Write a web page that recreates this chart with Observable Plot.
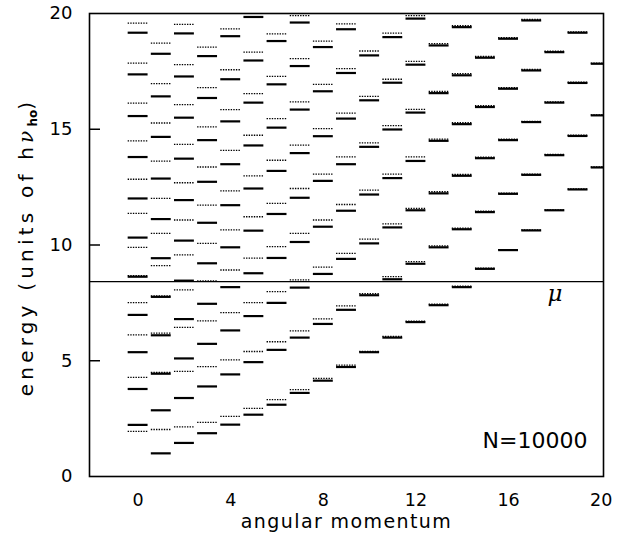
<!DOCTYPE html>
<html><head><meta charset="utf-8">
<script src="https://cdn.jsdelivr.net/npm/d3@7"></script>
<script src="https://cdn.jsdelivr.net/npm/@observablehq/plot@0.6"></script>
<style>body{margin:0;background:#fff} svg{display:block}</style>
</head><body><div id="chart"></div>
<script>
// energy levels (units of h nu_ho), indexed by angular momentum l = 0..20
const solidLevels = [
  [2.23, 3.78, 5.37, 6.98, 8.63, 10.32, 12.01, 13.8, 15.57, 17.37, 19.17],
  [1.0, 2.86, 4.44, 6.1, 7.76, 9.43, 11.12, 12.87, 14.67, 16.42, 18.26],
  [1.45, 3.39, 5.10, 6.8, 8.46, 10.19, 11.94, 13.73, 15.5, 17.28, 19.14],
  [1.87, 3.89, 5.73, 7.46, 9.21, 10.96, 12.73, 14.53, 16.35, 18.16],
  [2.24, 4.41, 6.31, 8.18, 9.9, 11.72, 13.49, 15.34, 17.16, 19.02],
  [2.67, 4.94, 6.93, 8.78, 10.62, 12.44, 14.3, 16.15, 17.97, 19.85],
  [3.1, 5.47, 7.5, 9.44, 11.34, 13.2, 15.07, 16.94, 18.81],
  [3.61, 6.0, 8.16, 10.13, 12.04, 13.97, 15.85, 17.73, 19.61],
  [4.14, 6.59, 8.75, 10.79, 12.77, 14.7, 16.64, 18.55],
  [4.73, 7.2, 9.4, 11.48, 13.49, 15.46, 17.43, 19.32],
  [5.37, 7.83, 10.07, 12.18, 14.24, 16.25, 18.19],
  [6.0, 8.52, 10.76, 12.89, 14.99, 17.01, 18.98],
  [6.67, 9.19, 11.5, 13.63, 15.72, 17.79, 19.78],
  [7.4, 9.9, 12.23, 14.5, 16.56, 18.62],
  [8.18, 10.68, 12.99, 15.22, 17.33, 19.41],
  [8.97, 11.42, 13.75, 15.96, 18.09],
  [9.78, 12.21, 14.53, 16.75, 18.91],
  [10.63, 13.03, 15.31, 17.54, 19.7],
  [11.5, 13.88, 16.15, 18.33],
  [12.4, 14.71, 17.0, 19.17],
  [13.35, 15.6, 17.83]
];
const dottedLevels = [
  [1.95, 4.28, 6.12, 7.51, 8.68, 9.9, 11.37, 12.84, 14.5, 16.13, 17.86, 19.58],
  [2.03, 4.5, 6.19, 7.8, 9.11, 10.5, 12.01, 13.62, 15.27, 16.97, 18.72],
  [2.14, 4.54, 6.44, 8.06, 9.57, 11.08, 12.69, 14.35, 16.06, 17.79, 19.53],
  [2.34, 4.75, 6.72, 8.45, 10.07, 11.72, 13.37, 15.1, 16.8, 18.55],
  [2.6, 5.04, 7.08, 8.92, 10.65, 12.34, 14.09, 15.85, 17.57, 19.34],
  [2.94, 5.4, 7.51, 9.43, 11.22, 12.99, 14.74, 16.54, 18.33],
  [3.32, 5.82, 7.99, 9.93, 11.8, 13.66, 15.46, 17.28, 19.12],
  [3.75, 6.29, 8.49, 10.5, 12.44, 14.31, 16.18, 18.05, 19.91],
  [4.24, 6.81, 9.04, 11.08, 13.06, 15.03, 16.94, 18.81],
  [4.81, 7.37, 9.64, 11.75, 13.81, 15.7, 17.62, 19.55],
  [5.4, 7.9, 10.25, 12.37, 14.41, 16.42, 18.38],
  [6.05, 8.63, 10.91, 13.06, 15.16, 17.16, 19.15],
  [6.71, 9.28, 11.58, 13.81, 15.86, 17.93, 19.91],
  [7.45, 9.96, 12.3, 14.57, 16.63, 18.7],
  [8.22, 10.73, 13.05, 15.28, 17.4, 19.47],
  [9.0, 11.46, 13.8, 16.02, 18.15],
  [9.8, 12.24, 14.57, 16.8, 18.96],
  [10.65, 13.06, 15.34, 17.58, 19.74],
  [11.52, 13.91, 16.18, 18.37],
  [12.42, 14.74, 17.03, 19.2],
  [13.37, 15.62, 17.86]
];
const xTicks = [0, 4, 8, 12, 16, 20];
const yTicks = [0, 5, 10, 15, 20];
const innerYTicks = [5, 10, 15];
const chemicalPotential = 8.42;
const muLabel = "μ";
const nLabel = "N=10000";
const xTitle = "angular momentum";
const yTitleMain = "energy (units of h";
const yTitleNu = "ν";
const yTitleSub = "ho";
const yTitleEnd = ")";

const toRows = levels => levels.flatMap((Es, l) => Es.map(E => ({l, E})));
const solidRows = toRows(solidLevels);
const dottedRows = toRows(dottedLevels);
const halfWidth = 0.43;

const chart = Plot.plot({
  width: 618, height: 541,
  marginLeft: 89, marginRight: 15, marginTop: 13, marginBottom: 65,
  style: {fontFamily: "'DejaVu Sans', sans-serif", fontSize: "18px", color: "#000", background: "#fff"},
  x: {domain: [-2.1, 20.1]},
  y: {domain: [0, 20]},
  marks: [
    Plot.ruleY(dottedRows, {y: "E", x1: d => d.l - halfWidth, x2: d => d.l + halfWidth,
      stroke: "#000", strokeWidth: 1.3, strokeDasharray: "1.4,1.2", clip: true}),
    Plot.ruleY(solidRows, {y: "E", x1: d => d.l - halfWidth, x2: d => d.l + halfWidth,
      stroke: "#000", strokeWidth: 2.2, clip: true}),
    Plot.ruleY([chemicalPotential], {stroke: "#000", strokeWidth: 1.3}),
    Plot.tickY(innerYTicks, {y: d => d, insetRight: 503, stroke: "#000", strokeWidth: 1.5}),
    Plot.frame({stroke: "#000", strokeWidth: 1.6}),
    Plot.axisY(yTicks, {tickSize: 0, tickPadding: 17, fontSize: 18, label: null}),
    Plot.axisX(xTicks, {tickSize: 0, tickPadding: 17, fontSize: 17.5, label: null}),
    Plot.text([xTitle], {frameAnchor: "bottom", dy: 51, fontSize: 19, text: d => d}),
    Plot.text([muLabel], {x: 18, y: chemicalPotential, dy: 12, text: d => d,
      fontSize: 23, fontStyle: "italic", fontFamily: "'DejaVu Serif', serif"}),
    Plot.text([nLabel], {frameAnchor: "bottom-right", dx: -16, dy: -29, text: d => d,
      textAnchor: "end", fontSize: 22})
  ]
});
document.getElementById("chart").appendChild(chart);
const svg = d3.select(chart);
svg.selectAll("text").filter(function(){ return this.textContent === xTitle; }).style("letter-spacing", "1.4px");
const yt = svg.append("text")
  .attr("transform", "translate(33,247) rotate(-90)")
  .attr("text-anchor", "middle")
  .attr("font-family", "'DejaVu Sans', sans-serif")
  .attr("font-size", 20)
  .style("letter-spacing", "4.2px")
  .attr("fill", "#000");
yt.append("tspan").text(yTitleMain);
yt.append("tspan").attr("font-style", "italic").attr("font-family", "'DejaVu Serif', serif").text(yTitleNu);
yt.append("tspan").attr("font-size", 12).attr("font-weight", "bold").attr("dy", 4).style("letter-spacing", "0px").text(yTitleSub);
yt.append("tspan").attr("dy", -4).text(yTitleEnd);
</script>
</body></html>
